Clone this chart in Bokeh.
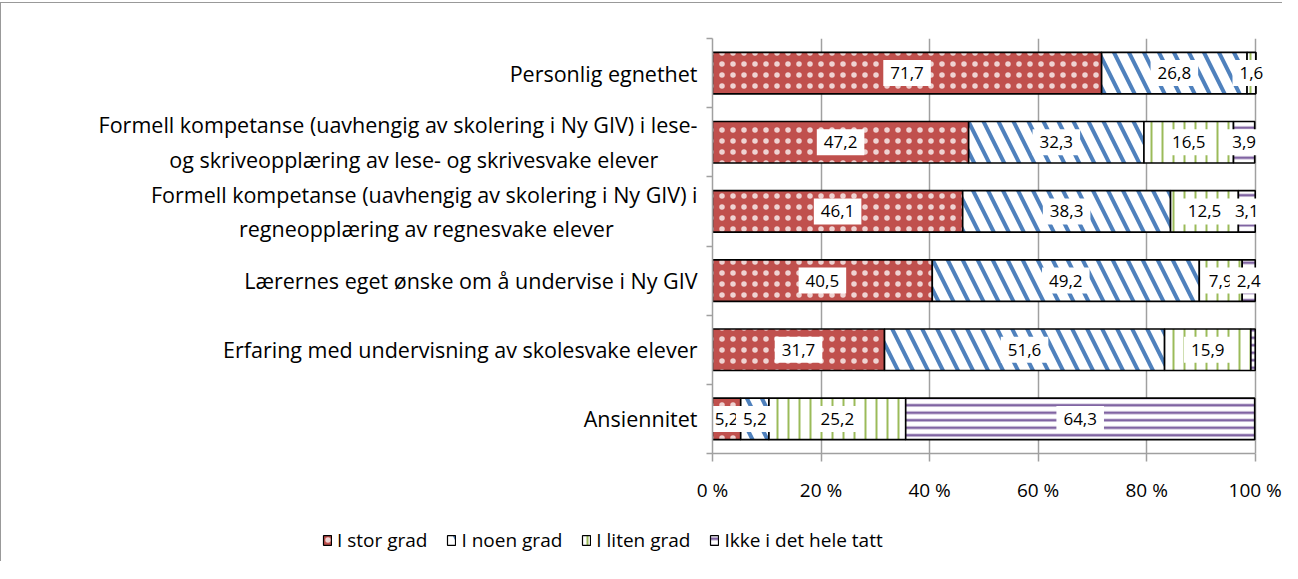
from bokeh.plotting import figure
from bokeh.layouts import column
from bokeh.models import ColumnDataSource, Legend, LegendItem, FixedTicker
from bokeh.core.properties import value
from bokeh.embed import file_html
from bokeh.resources import INLINE

NB = "\u00a0"
categories = [
    "Personlig egnethet",
    "Formell kompetanse (uavhengig av skolering i Ny GIV) i lese-\nog skriveopplæring av lese- og skrivesvake elever" + NB * 7,
    "Formell kompetanse (uavhengig av skolering i Ny GIV) i\nregneopplæring av regnesvake elever" + NB * 15,
    "Lærernes eget ønske om å undervise i Ny GIV",
    "Erfaring med undervisning av skolesvake elever",
    "Ansiennitet",
]
series_names = ["I stor grad", "I noen grad", "I liten grad", "Ikke i det hele tatt"]
stor = [71.7, 47.2, 46.1, 40.5, 31.7, 5.2]
noen = [26.8, 32.3, 38.3, 49.2, 51.6, 5.2]
liten = [1.6, 16.5, 12.5, 7.9, 15.9, 25.2]
ikke = [0.0, 3.9, 3.1, 2.4, 0.8, 64.3]
x_ticks = [0, 20, 40, 60, 80, 100]
x_tick_labels = ["0 %", "20 %", "40 %", "60 %", "80 %", "100 %"]

FONT = "Open Sans"
n = len(categories)
ypos = [n - 1 - i + 0.5 for i in range(n)]

p = figure(frame_width=558, frame_height=414, min_border_left=711, min_border_right=12,
           min_border_top=35, min_border_bottom=53,
           x_range=(0, 103), y_range=(0, n),
           output_backend="svg", toolbar_location=None)
p.styles = {"border-top": "1px solid #999999", "border-left": "1px solid #999999",
            "margin-top": "2px"}
p.outline_line_color = None
p.background_fill_color = "white"

styles = [
    dict(fill_color="#C0504D", hatch_pattern="dot", hatch_color="white",
         hatch_scale=11, hatch_alpha=0.75),
    dict(fill_color="white", hatch_pattern="left_diagonal_line", hatch_color="#4F81BD",
         hatch_scale=30, hatch_weight=4),
    dict(fill_color="white", hatch_pattern="vertical_line", hatch_color="#9BBB59",
         hatch_scale=11, hatch_weight=2),
    dict(fill_color="white", hatch_pattern="horizontal_line", hatch_color="#8064A2",
         hatch_scale=7.5, hatch_weight=2.6),
]

left = [0.0] * n
lab_x, lab_y, lab_t = [], [], []
for vals, name, st in zip([stor, noen, liten, ikke], series_names, styles):
    right = [l + v for l, v in zip(left, vals)]
    src = ColumnDataSource(dict(y=ypos, left=left, right=right))
    p.hbar(y="y", left="left", right="right", height=0.6, source=src,
           line_color="black", line_width=1.6, **st)
    for yy, l, v in zip(ypos, left, vals):
        if v >= 1:
            lab_x.append(l + v / 2)
            lab_y.append(yy)
            lab_t.append(f"{v:.1f}".replace(".", ","))
    left = right

lsrc = ColumnDataSource(dict(x=lab_x, y=lab_y, t=lab_t))
p.text(x="x", y="y", text="t", source=lsrc, text_align="center", text_baseline="middle",
       text_font=value(FONT), text_font_size="17px", text_color="black",
       background_fill_color="white", padding=7)

# axes
p.xaxis.ticker = FixedTicker(ticks=x_ticks)
p.xaxis.bounds = (0, 100)
p.xaxis.major_label_overrides = {t: s for t, s in zip(x_ticks, x_tick_labels)}
p.xaxis.axis_line_color = "#a0a0a0"
p.xaxis.axis_line_width = 1.5
p.xaxis.major_tick_line_color = "#a0a0a0"
p.xaxis.major_tick_line_width = 1.5
p.xaxis.major_tick_out = 8
p.xaxis.major_tick_in = 0
p.xaxis.minor_tick_line_color = None
p.xaxis.major_label_text_font = FONT
p.xaxis.major_label_text_font_size = "19px"
p.xaxis.major_label_text_color = "black"
p.xaxis.major_label_standoff = 15

p.yaxis.ticker = FixedTicker(ticks=ypos, minor_ticks=list(range(n + 1)))
p.yaxis.major_label_overrides = {y: c for y, c in zip(ypos, categories)}
p.yaxis.axis_line_color = "#a0a0a0"
p.yaxis.axis_line_width = 1.5
p.yaxis.major_tick_line_color = None
p.yaxis.major_tick_out = 0
p.yaxis.major_tick_in = 0
p.yaxis.minor_tick_line_color = "#a0a0a0"
p.yaxis.minor_tick_line_width = 1.5
p.yaxis.minor_tick_out = 6
p.yaxis.minor_tick_in = 0
p.yaxis.major_label_text_font = FONT
p.yaxis.major_label_text_font_size = "21.5px"
p.yaxis.major_label_text_color = "black"
p.yaxis.major_label_standoff = 9

p.xgrid.ticker = FixedTicker(ticks=x_ticks)
p.xgrid.grid_line_color = "#a0a0a0"
p.xgrid.grid_line_width = 1.5
p.ygrid.grid_line_color = None

# legend strip below the chart
lg = figure(frame_width=1281, frame_height=56, min_border=0,
            x_range=(0, 1), y_range=(0, 1), x_axis_type=None, y_axis_type=None,
            output_backend="svg", toolbar_location=None)
lg.styles = {"border-left": "1px solid #999999"}
lg.outline_line_color = None
lg.xgrid.visible = False
lg.ygrid.visible = False
items = []
for name, st in zip(series_names, styles):
    dummy = ColumnDataSource(dict(y=[-5], left=[0], right=[1]))
    r = lg.hbar(y="y", left="left", right="right", height=0.6,
                source=dummy, line_color="black", line_width=1.2, **st)
    items.append(LegendItem(label=name, renderers=[r], index=0))

legend = Legend(items=items, orientation="horizontal", location=(321, 8),
                label_text_font=FONT, label_text_font_size="19px", label_text_color="black",
                glyph_width=10, glyph_height=12, spacing=19, padding=0, margin=0,
                border_line_color=None, background_fill_alpha=0, label_standoff=5)
lg.add_layout(legend, "center")

layout = column(p, lg, spacing=0)
open("out.html", "w").write(file_html(layout, INLINE))
